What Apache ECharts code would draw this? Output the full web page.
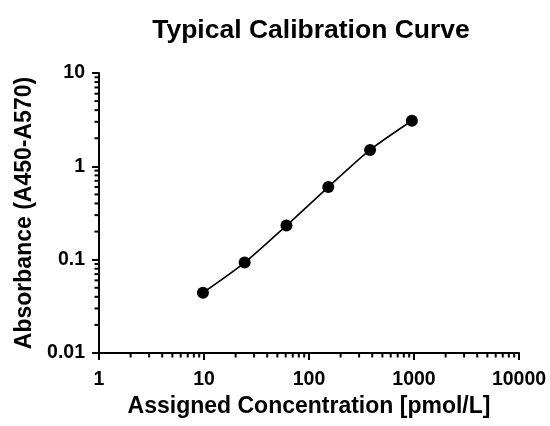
<!DOCTYPE html>
<html>
<head>
<meta charset="utf-8">
<script src="https://cdn.jsdelivr.net/npm/echarts@6/dist/echarts.min.js"></script>
<style>html,body{margin:0;padding:0;background:#fff}#c{width:550px;height:426px}</style>
</head>
<body>
<div id="c"></div>
<script>
// Data
var concentration = [9.77, 24.4, 61.0, 152.6, 381.5, 954];
var absorbance = [0.0442, 0.093, 0.232, 0.600, 1.50, 3.08];
var xTickLabels = ['1', '10', '100', '1000', '10000'];
var yTickLabels = ['0.01', '0.1', '1', '10'];
var xDecades = [1, 10, 100, 1000];
var yDecades = [0.01, 0.1, 1];
var minorMultipliers = [2, 3, 4, 5, 6, 7, 8, 9];

var FONT = '"Liberation Sans", Arial, Helvetica, sans-serif';

var points = concentration.map(function (c, i) { return [c, absorbance[i]]; });

var xMinor = [], yMinor = [];
xDecades.forEach(function (d) { minorMultipliers.forEach(function (m) { xMinor.push([d * m, 0.01]); }); });
yDecades.forEach(function (d) { minorMultipliers.forEach(function (m) { yMinor.push([1, d * m]); }); });

function minorTick(dir) {
  return function (params, api) {
    var p = api.coord([api.value(0), api.value(1)]);
    var shape = dir === 'x'
      ? { x1: p[0], y1: p[1], x2: p[0], y2: p[1] + 4.5 }
      : { x1: p[0], y1: p[1], x2: p[0] - 4.5, y2: p[1] };
    return { type: 'line', shape: shape, style: { stroke: '#000', lineWidth: 2 } };
  };
}

var chart = echarts.init(document.getElementById('c'), null, { renderer: 'canvas' });
chart.setOption({
  animation: false,
  backgroundColor: '#fff',
  title: {
    text: 'Typical Calibration Curve',
    left: 306, top: 12, textAlign: 'center',
    textStyle: { fontFamily: FONT, fontSize: 26.5, fontWeight: 'bold', color: '#000' }
  },
  grid: { left: 99, right: 31, top: 73, bottom: 73, containLabel: false },
  xAxis: {
    type: 'log', logBase: 10, min: 1, max: 10000,
    name: 'Assigned Concentration [pmol/L]', nameLocation: 'middle', nameGap: 40,
    nameTextStyle: { fontFamily: FONT, fontSize: 23, fontWeight: 'bold', color: '#000' },
    axisLine: { show: true, lineStyle: { color: '#000', width: 2 } },
    axisTick: { show: true, length: 7, lineStyle: { color: '#000', width: 2 } },
    minorTick: { show: false },
    splitLine: { show: false },
    axisLabel: {
      margin: 17, fontFamily: FONT, fontSize: 19.5, fontWeight: 'bold', color: '#000',
      formatter: function (v) { var i = Math.round(Math.log10(v)); return xTickLabels[i]; }
    }
  },
  yAxis: {
    type: 'log', logBase: 10, min: 0.01, max: 10,
    name: 'Absorbance (A450-A570)', nameLocation: 'middle', nameGap: 61,
    nameTextStyle: { fontFamily: FONT, fontSize: 23, fontWeight: 'bold', color: '#000' },
    axisLine: { show: true, lineStyle: { color: '#000', width: 2 } },
    axisTick: { show: true, length: 7, lineStyle: { color: '#000', width: 2 } },
    minorTick: { show: false },
    splitLine: { show: false },
    axisLabel: {
      margin: 14, fontFamily: FONT, fontSize: 19.5, fontWeight: 'bold', color: '#000',
      formatter: function (v) { var i = Math.round(Math.log10(v)) + 2; return yTickLabels[i]; }
    }
  },
  series: [
    {
      type: 'custom', coordinateSystem: 'cartesian2d', clip: false, silent: true,
      renderItem: minorTick('x'), data: xMinor, z: 1
    },
    {
      type: 'custom', coordinateSystem: 'cartesian2d', clip: false, silent: true,
      renderItem: minorTick('y'), data: yMinor, z: 1
    },
    {
      type: 'line', data: points, smooth: 0.25,
      symbol: 'circle', symbolSize: 12,
      lineStyle: { color: '#000', width: 1.6 },
      itemStyle: { color: '#000' },
      z: 3
    }
  ]
});
</script>
</body>
</html>
